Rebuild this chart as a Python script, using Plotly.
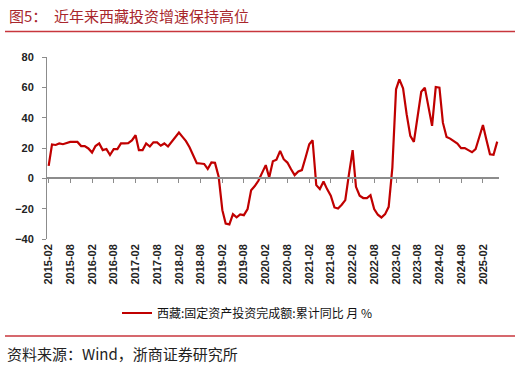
import pandas as pd
import plotly.graph_objects as go

# Monthly data, 2015-02 .. 2025-06
start_month = "2015-02-01"
values = [
    8.2, 22.3, 22.0, 23.0, 22.5, 23.0, 24.0, 24.0, 24.0, 21.3, 21.3,          # 2015-02..12
    19.7, 17.0, 21.3, 23.0, 18.6, 19.3, 15.4, 19.3, 19.3, 23.0, 23.0, 23.2,  # 2016
    25.0, 28.4, 18.6, 18.6, 23.0, 21.0, 23.7, 23.7, 21.5, 23.0, 21.0, 23.9,  # 2017
    27.0, 30.2, 27.5, 24.5, 20.5, 15.0, 10.0, 9.8, 9.5, 6.2, 10.5, 10.2,     # 2018
    1.0, -21.0, -29.8, -30.4, -23.6, -25.7, -23.8, -24.3, -20.3, -7.8, -5.1, -1.6,  # 2019
    3.5, 8.7, 0.5, 11.2, 12.3, 18.1, 12.6, 10.4, 6.0, 2.1, 4.5, 5.4,         # 2020
    13.7, 22.5, 25.1, -4.5, -7.1, -2.1, -7.1, -11.5, -19.2, -19.9, -17.4, -14.4,  # 2021
    2.8, 18.6, -5.6, -11.5, -13.0, -13.0, -11.1, -20.3, -24.0, -25.8, -23.6, -18.8,  # 2022
    7.1, 58.7, 65.3, 59.4, 42.3, 28.0, 24.0, 42.3, 57.1, 59.8, 46.6, 34.6,   # 2023
    60.2, 59.8, 36.7, 27.3, 26.2, 24.7, 22.9, 19.9, 19.9, 18.6, 17.2, 19.2,  # 2024
    28.0, 35.2, 25.8, 15.9, 15.5, 24.2,                                      # 2025
]
months = pd.date_range(start_month, periods=len(values), freq="MS")

series_name = "西藏:固定资产投资完成额:累计同比 月 %"
title_text = "图5：  近年来西藏投资增速保持高位"
source_text = "资料来源：Wind，浙商证券研究所"
y_ticks = [-40, -20, 0, 20, 40, 60, 80]

W, H = 520, 366
L, R, T, B = 47, 21, 57, 127
plot_w = W - L - R
plot_h = H - T - B

def px_x(px):
    return (px - L) / plot_w

def px_y(py):
    return (H - B - py) / plot_h

x_range = ["2015-01-18", "2025-06-16"]
line_red = "#C00000"
axis_gray = "#8c8c8c"

fig = go.Figure()
fig.add_trace(go.Scatter(
    x=months, y=values, mode="lines", name=series_name,
    line=dict(color=line_red, width=2.2), xaxis="x", yaxis="y",
))
# invisible trace to carry the zero-line axis
fig.add_trace(go.Scatter(
    x=months, y=values, mode="lines", showlegend=False, hoverinfo="skip",
    line=dict(color="rgba(0,0,0,0)", width=0), xaxis="x2", yaxis="y",
))

fig.update_layout(
    width=W, height=H, autosize=False,
    margin=dict(l=L, r=R, t=T, b=B),
    paper_bgcolor="white", plot_bgcolor="white",
    showlegend=True,
    legend=dict(
        orientation="h", x=px_x(117), xanchor="left", y=px_y(313), yanchor="middle",
        font=dict(family="Noto Sans CJK SC", size=12, color="#111"),
        bgcolor="rgba(0,0,0,0)",
    ),
    xaxis=dict(
        type="date", range=x_range, tick0="2015-02-01", dtick="M6",
        tickformat="%Y-%m", tickangle=-90, showline=False, ticks="",
        showgrid=False, zeroline=False,
        tickfont=dict(family="Liberation Sans", size=11, color="#222", weight="bold"),
        ticklabelstandoff=2,
    ),
    xaxis2=dict(
        type="date", range=x_range, tick0="2015-02-01", dtick="M6",
        overlaying="x", anchor="free", position=1/3,
        showline=True, linecolor=axis_gray, linewidth=1.6,
        ticks="outside", ticklen=4, tickcolor=axis_gray, tickwidth=1,
        showticklabels=False, showgrid=False, zeroline=False,
    ),
    yaxis=dict(
        range=[-40, 80], tickvals=y_ticks, showgrid=False, zeroline=False,
        showline=True, linecolor=axis_gray, linewidth=1,
        ticks="outside", ticklen=4, tickcolor=axis_gray,
        tickfont=dict(family="Liberation Sans", size=11, color="#222", weight="bold"),
        ticklabelstandoff=6,
    ),
    shapes=[
        dict(type="line", xref="paper", yref="paper",
             x0=px_x(5), x1=px_x(515), y0=px_y(31.5), y1=px_y(31.5),
             line=dict(color="#C8363C", width=1.5)),
        dict(type="line", xref="paper", yref="paper",
             x0=px_x(5), x1=px_x(515), y0=px_y(336), y1=px_y(336),
             line=dict(color="#C8363C", width=1.5)),
    ],
    annotations=[
        dict(text=title_text, xref="paper", yref="paper",
             x=px_x(7), y=px_y(16), xanchor="left", yanchor="middle",
             showarrow=False,
             font=dict(family="Noto Sans CJK SC", size=15, color="#A8262C")),
        dict(text=source_text, xref="paper", yref="paper",
             x=px_x(5), y=px_y(353), xanchor="left", yanchor="middle",
             showarrow=False,
             font=dict(family="Noto Sans CJK SC", size=15, color="#222")),
    ],
)

fig.write_html(
    "out.html",
    config={"displayModeBar": False},
    post_script="document.body.style.margin='0px';document.body.style.overflow='hidden';",
)
